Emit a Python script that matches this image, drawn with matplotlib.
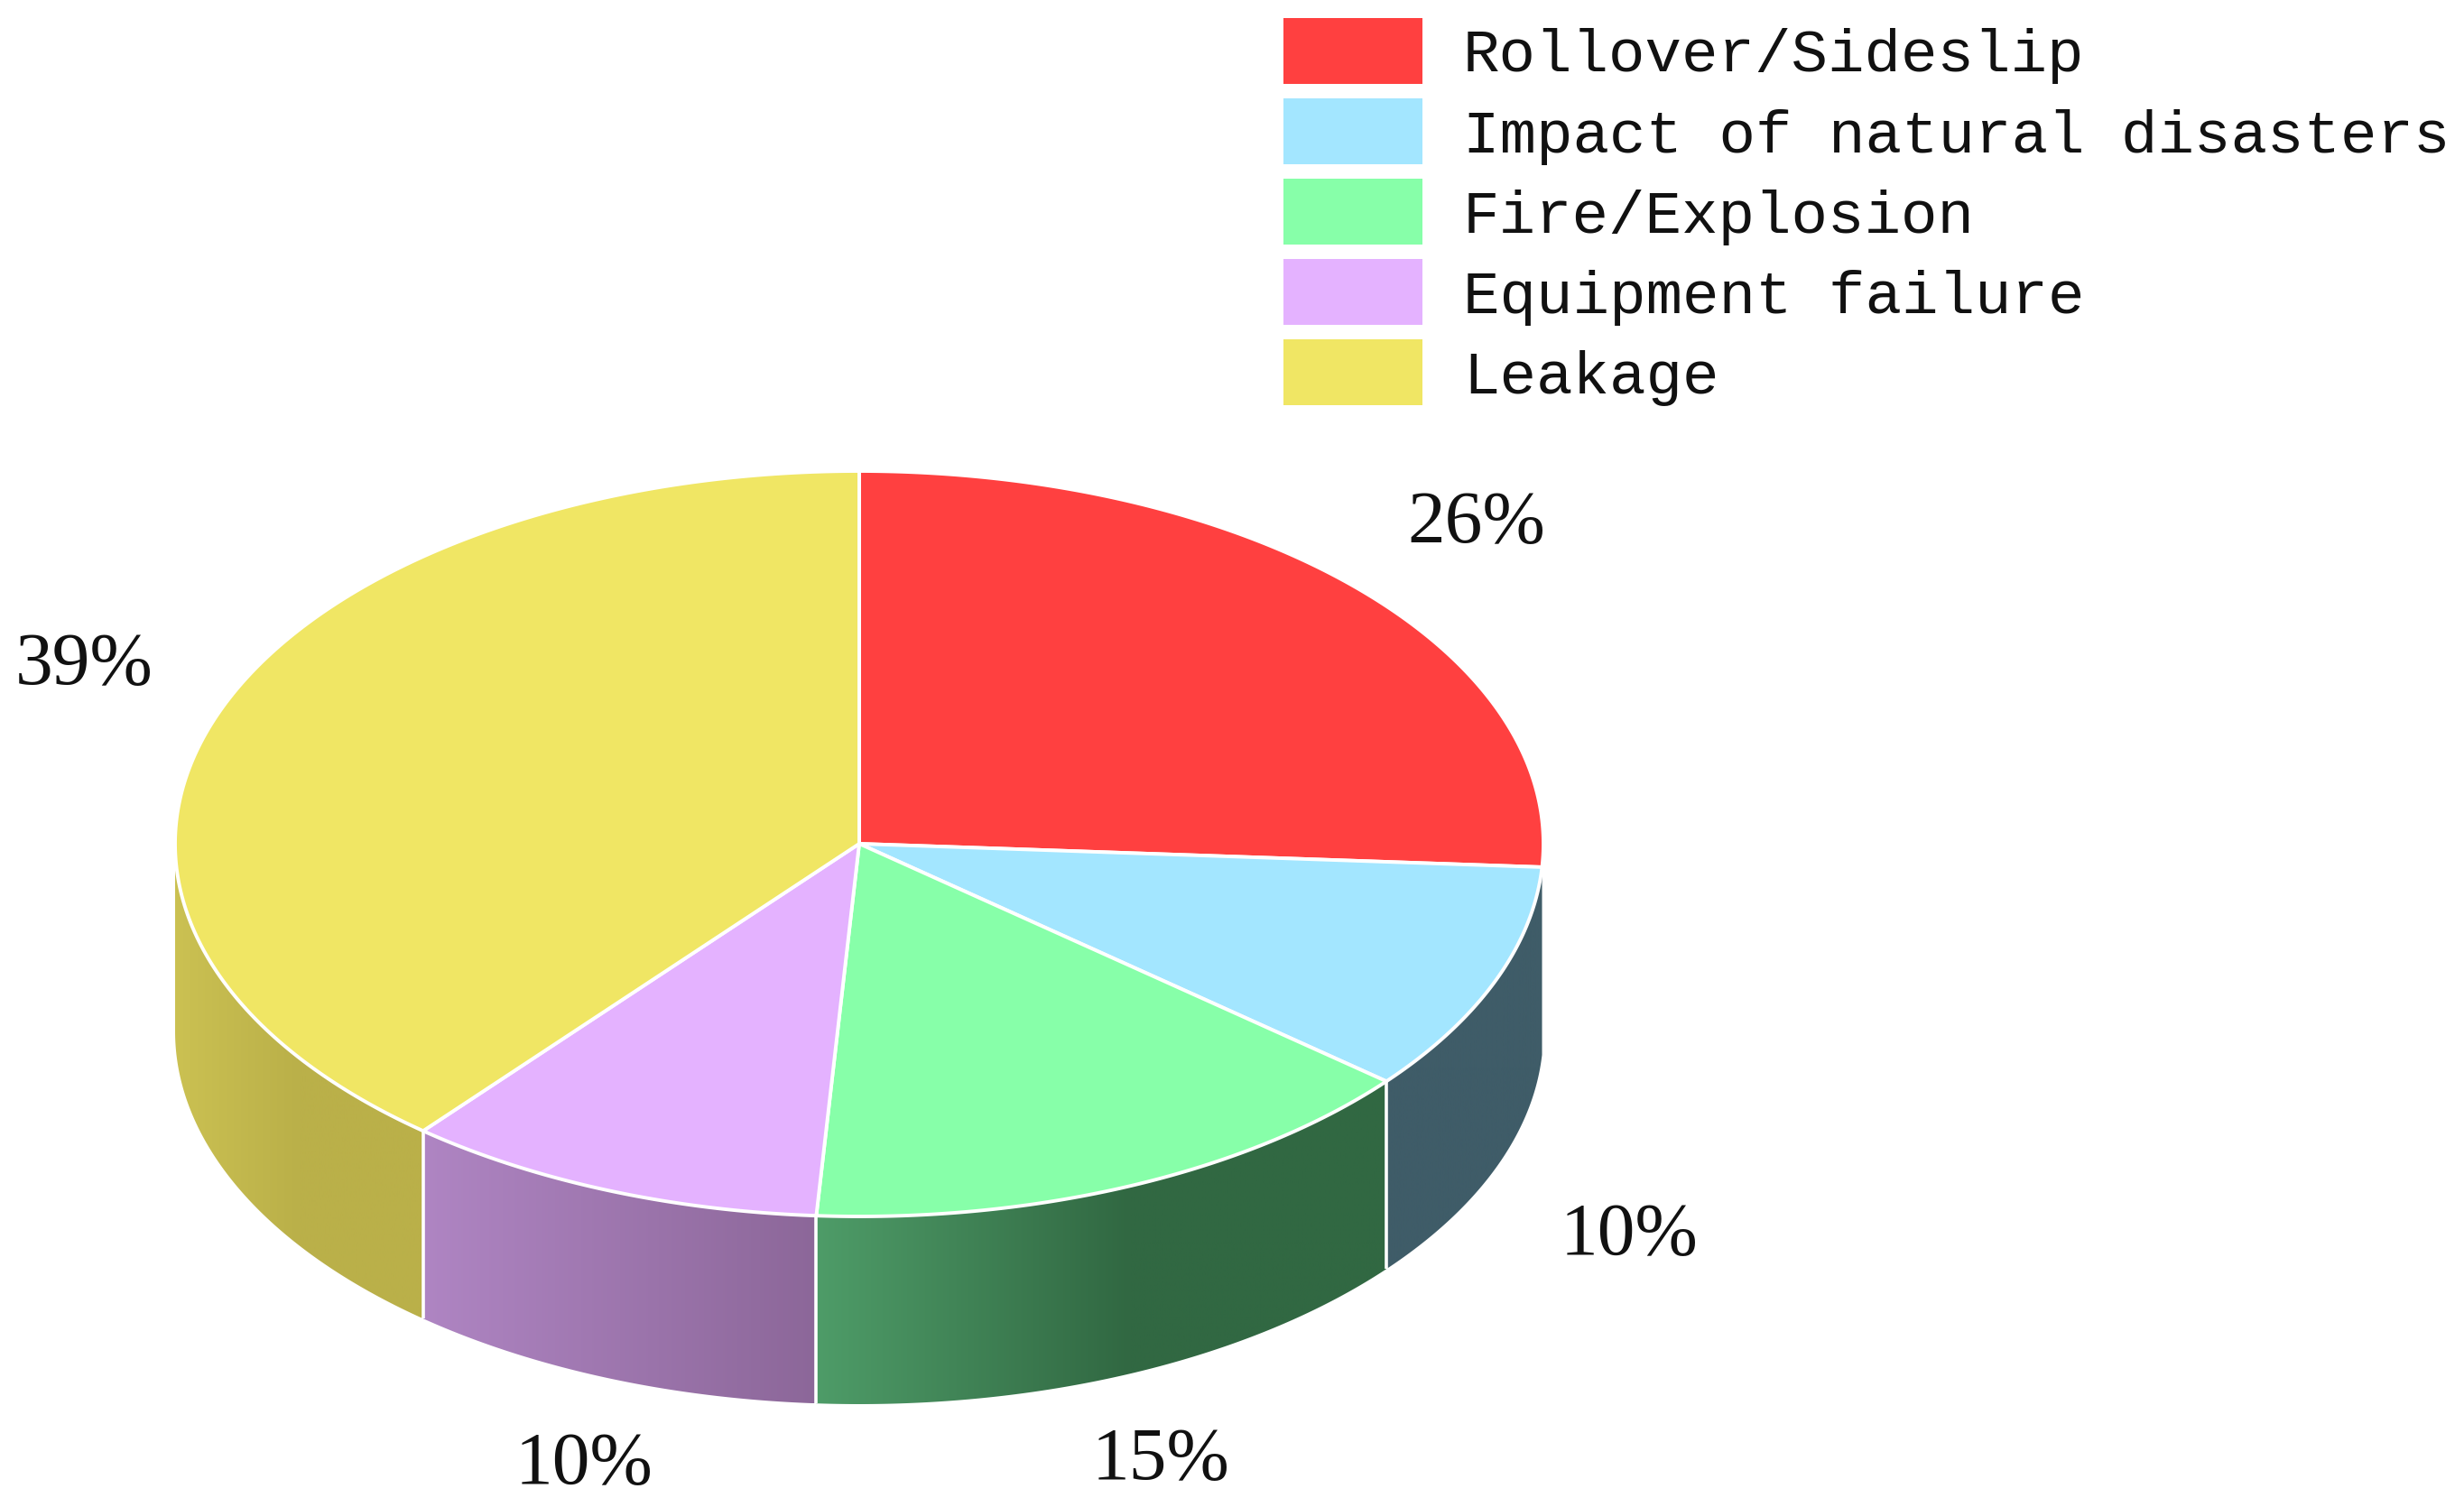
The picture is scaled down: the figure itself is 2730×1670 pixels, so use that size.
#!/usr/bin/env python3
"""3D looking pie chart of accident causes, drawn on a pixel sized axes."""

import numpy as np
import matplotlib
matplotlib.use('Agg')
import matplotlib.pyplot as plt
from matplotlib.colors import LinearSegmentedColormap
from matplotlib.patches import Polygon, Rectangle

categories = ['Rollover/Sideslip', 'Impact of natural disasters', 'Fire/Explosion',
              'Equipment failure', 'Leakage']
shares = [26, 10, 15, 10, 39]
share_labels = ['26%', '10%', '15%', '10%', '39%']

top_colors = ['#FF4040', '#A3E6FF', '#87FFA9', '#E4B2FF', '#F0E664']
# left to right shading of the visible side wall, red has no visible wall
side_shades = [
    None,
    [(0, '#3F5C68'), (1, '#3F5C68')],
    [(0, '#4E9C68'), (0.55, '#316842'), (1, '#316842')],
    [(0, '#AF85C3'), (1, '#8C6799')],
    [(0, '#CBC152'), (0.5, '#BAB049'), (1, '#BAB049')],
]

label_pos = [(1636, 581), (1805, 1370), (1286, 1619), (647, 1624), (93, 738)]

CX, CY = 952, 935
RX, RY = 758, 413
DEPTH = 208


def rim(a_start, a_end, n=200):
    """Points on the ellipse, angles in degrees clockwise from the top"""
    a = np.radians(np.linspace(a_start, a_end, n))
    return CX + RX * np.sin(a), CY - RY * np.cos(a)


fig = plt.figure(figsize=(27.3, 16.7), dpi=100)
ax = fig.add_axes([0, 0, 1, 1])
ax.set_axis_off()

edges = np.cumsum([0] + shares) / sum(shares) * 360

# side walls first, top faces go over them
for i, stops in enumerate(side_shades):
    if stops is None:
        continue
    a0, a1 = max(edges[i], 90), min(edges[i + 1], 270)
    x, y = rim(a0, a1)
    pts = np.vstack([np.column_stack([x, y]), np.column_stack([x, y + DEPTH])[::-1]])
    poly = Polygon(pts, closed=True, facecolor='none', edgecolor='none')
    ax.add_patch(poly)
    cmap = LinearSegmentedColormap.from_list(f'side{i}', stops)
    im = ax.imshow(np.linspace(0, 1, 256).reshape(1, -1), cmap=cmap, aspect='auto',
                   extent=(x.min(), x.max(), y.max() + DEPTH, y.min()))
    im.set_clip_path(poly)

# white seams between the walls
for a in edges[2:5]:
    x, y = rim(a, a, 1)
    ax.plot([x[0], x[0]], [y[0], y[0] + DEPTH], color='white', lw=2.6, solid_capstyle='butt')

for i, color in enumerate(top_colors):
    x, y = rim(edges[i], edges[i + 1])
    pts = np.vstack([[CX, CY], np.column_stack([x, y])])
    ax.add_patch(Polygon(pts, closed=True, facecolor=color, edgecolor='white',
                         linewidth=2.8, joinstyle='round'))

for text, (x, y) in zip(share_labels, label_pos):
    ax.text(x, y, text, fontsize=60, family='Liberation Serif', color='#111111',
            ha='center', va='center')

# legend, placed by hand to keep the wide spacing of the original
legend_top = [20, 109, 198, 287, 376]
legend_text_y = [62, 152, 241, 330, 419]
for name, color, top, ty in zip(categories, top_colors, legend_top, legend_text_y):
    ax.add_patch(Rectangle((1422, top), 154, 73, facecolor=color, edgecolor='none'))
    ax.text(1621, ty, name, fontsize=48.6, family='Liberation Mono', color='#111111',
            ha='left', va='center')

ax.set_xlim(0, 2730)
ax.set_ylim(1670, 0)

fig.savefig('out.png', dpi=100, facecolor='white')
plt.close(fig)
